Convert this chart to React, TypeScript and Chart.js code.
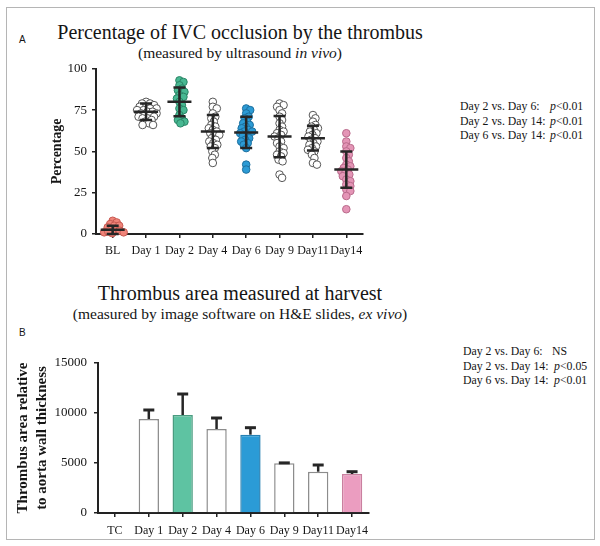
import React, { useEffect, useRef } from 'react';
import { Chart, registerables } from 'chart.js';

Chart.register(...registerables);

const FONT = "'Liberation Serif', 'Times New Roman', serif";
const INK = '#151515';

// ---------- Panel A data ----------
const categoriesA = ['BL', 'Day 1', 'Day 2', 'Day 4', 'Day 6', 'Day 9', 'Day11', 'Day14'];
const valuesBL = [8, 7, 6, 5, 5, 4, 3, 2, 2, 1, 0.5, 1, 1.5];
const valuesDay1 = [80, 79, 79, 78, 77, 77, 76, 76, 75, 75, 74, 74, 73, 73, 72, 72, 71, 71, 70, 70, 69, 68, 67, 66, 66];
const valuesDay2 = [93, 92, 90, 88, 87, 86, 84, 83, 82, 80, 78, 76, 75, 72, 70, 69, 68, 67];
const valuesDay4 = [80, 77, 76, 73, 71, 70, 68, 66, 65, 64, 63, 62, 61, 60, 60, 58, 57, 56, 55, 54, 53, 52, 50, 48, 46, 43];
const valuesDay6 = [76, 75, 73, 71, 70, 68, 67, 66, 65, 64, 63, 62, 62, 61, 60, 59, 58, 57, 56, 55, 54, 52, 42, 39];
const valuesDay9 = [79, 78, 77, 75, 73, 71, 69, 67, 65, 63, 62, 61, 60, 59, 58, 56, 55, 53, 52, 50, 49, 48, 47, 45, 44, 36, 34];
const valuesDay11 = [72, 70, 68, 66, 65, 64, 63, 62, 61, 60, 59, 58, 57, 56, 55, 54, 53, 52, 51, 50, 48, 46, 43, 42];
const valuesDay14 = [61, 56, 53, 52, 50, 48, 46, 44, 42, 41, 40, 39, 38, 37, 36, 35, 33, 32, 30, 29, 27, 26, 23, 15];
const meansA = [2.5, 74, 80, 62, 61.5, 59, 58, 39];
const sdA = [2.5, 5, 8.7, 10, 9.5, 12.5, 7.5, 11];
const pointFillA = ['#ef8479', '#ffffff', '#48b892', '#ffffff', '#2c9bd5', '#ffffff', '#ffffff', '#e495b6'];
const pointStrokeA = ['#c85a52', '#555555', '#2b8566', '#555555', '#1d6f9e', '#555555', '#555555', '#b96a8b'];
const yTicksA = [0, 25, 50, 75, 100];

// ---------- Panel B data ----------
const categoriesB = ['TC', 'Day 1', 'Day 2', 'Day 4', 'Day 6', 'Day 9', 'Day11', 'Day14'];
const barValuesB: (number | null)[] = [null, 9400, 9800, 8400, 7830, 4970, 4130, 3900];
const barErrorsB: (number | null)[] = [null, 900, 2100, 1100, 700, 40, 670, 230];
const barFillB = ['#ffffff', '#ffffff', '#5ec3a2', '#ffffff', '#2b9bd6', '#ffffff', '#ffffff', '#eb9dc0'];
const barStrokeB = ['#8c8c8c', '#8c8c8c', '#4a9c80', '#8c8c8c', '#2580b3', '#8c8c8c', '#8c8c8c', '#c9809f'];
const yTicksB = [0, 5000, 10000, 15000];

const statsA = [
  ['Day 2 vs. Day 6:', 'p', '<0.01'],
  ['Day 2 vs. Day 14:', 'p', '<0.01'],
  ['Day 6 vs. Day 14:', 'p', '<0.01'],
];
const statsB = [
  ['Day 2 vs. Day 6:', '', 'NS'],
  ['Day 2 vs. Day 14:', 'p', '<0.05'],
  ['Day 6 vs. Day 14:', 'p', '<0.01'],
];

// beeswarm layout (pixel space) -> x offsets in category units
function beeswarm(values: number[], xPxPerUnit: number, yPxPerUnit: number, minDist: number): number[] {
  const order = values.map((_, i) => i).sort((a, b) => values[b] - values[a]);
  const placed: { x: number; y: number }[] = [];
  const offs = new Array(values.length).fill(0);
  for (const i of order) {
    const y = values[i] * yPxPerUnit;
    let chosen = 0;
    for (let k = 0; k < 400; k++) {
      const cand = k === 0 ? 0 : (k % 2 ? 1 : -1) * Math.ceil(k / 2) * 0.5;
      if (placed.every((p) => Math.hypot(p.x - cand, p.y - y) >= minDist)) {
        chosen = cand;
        break;
      }
    }
    placed.push({ x: chosen, y });
    offs[i] = chosen / xPxPerUnit;
  }
  return offs;
}

const errorBarsA = {
  id: 'errorBarsA',
  afterDatasetsDraw(chart: any) {
    const { ctx, scales } = chart;
    const xs = scales.x;
    const ys = scales.y;
    ctx.save();
    ctx.strokeStyle = '#262626';
    ctx.lineCap = 'butt';
    meansA.forEach((m, i) => {
      const x = xs.getPixelForValue(i);
      const ym = ys.getPixelForValue(m);
      const yt = ys.getPixelForValue(m + sdA[i]);
      const yb = ys.getPixelForValue(Math.max(0, m - sdA[i]));
      ctx.lineWidth = 2.5;
      ctx.beginPath();
      ctx.moveTo(x - 12, ym);
      ctx.lineTo(x + 12, ym);
      ctx.moveTo(x, yt);
      ctx.lineTo(x, yb);
      ctx.moveTo(x - 6, yt);
      ctx.lineTo(x + 6, yt);
      ctx.moveTo(x - 6, yb);
      ctx.lineTo(x + 6, yb);
      ctx.stroke();
    });
    ctx.restore();
  },
};

const errorBarsB = {
  id: 'errorBarsB',
  afterDatasetsDraw(chart: any) {
    const { ctx, scales } = chart;
    const meta = chart.getDatasetMeta(0);
    ctx.save();
    ctx.strokeStyle = '#262626';
    barValuesB.forEach((v, i) => {
      const e = barErrorsB[i];
      if (v == null || e == null) return;
      const x = meta.data[i].x;
      const y0 = scales.y.getPixelForValue(v);
      const y1 = scales.y.getPixelForValue(v + e);
      ctx.lineWidth = 2.5;
      ctx.beginPath();
      ctx.moveTo(x, y0);
      ctx.lineTo(x, y1);
      ctx.stroke();
      ctx.lineWidth = 3;
      ctx.beginPath();
      ctx.moveTo(x - 5.5, y1);
      ctx.lineTo(x + 5.5, y1);
      ctx.stroke();
    });
    ctx.restore();
  },
};

function ChartA() {
  const ref = useRef<HTMLCanvasElement>(null);
  useEffect(() => {
    if (!ref.current) return;
    const groups = [valuesBL, valuesDay1, valuesDay2, valuesDay4, valuesDay6, valuesDay9, valuesDay11, valuesDay14];
    const datasets = groups.map((vals, g) => {
      const offs = beeswarm(vals, 33.4, 1.71, 4);
      return {
        data: vals.map((v, j) => ({ x: g + offs[j], y: v })),
        pointRadius: 3.8,
        pointBackgroundColor: pointFillA[g],
        pointBorderColor: pointStrokeA[g],
        pointBorderWidth: 1,
        showLine: false,
        clip: false as any,
      };
    });
    const chart = new Chart(ref.current, {
      type: 'scatter',
      data: { datasets },
      options: {
        animation: false,
        responsive: false,
        events: [],
        layout: { padding: { top: 7, right: 17, left: 0, bottom: 0 } },
        plugins: { legend: { display: false }, tooltip: { enabled: false } },
        scales: {
          x: {
            type: 'linear',
            min: -0.5,
            max: 7.5,
            afterBuildTicks: (s: any) => {
              s.ticks = categoriesA.map((_, i) => ({ value: i }));
            },
            afterFit: (s: any) => {
              s.height = 32;
            },
            ticks: {
              autoSkip: false,
              maxRotation: 0,
              minRotation: 0,
              padding: 6,
              color: INK,
              font: { family: FONT, size: 12 },
              callback: (v: any) => categoriesA[Math.round(Number(v))],
            },
            grid: { display: true, drawOnChartArea: false, drawTicks: true, tickLength: 4, color: '#222', lineWidth: 1.5 },
            border: { display: true, color: '#222', width: 2 },
          },
          y: {
            min: 0,
            max: 100,
            afterBuildTicks: (s: any) => {
              s.ticks = yTicksA.map((v) => ({ value: v }));
            },
            afterFit: (s: any) => {
              s.width = 96;
            },
            ticks: { padding: 5, color: INK, font: { family: FONT, size: 13 } },
            grid: { display: true, drawOnChartArea: false, drawTicks: true, tickLength: 4, color: '#222', lineWidth: 1.5 },
            border: { display: true, color: '#222', width: 2 },
            title: {
              display: true,
              text: 'Percentage',
              color: INK,
              font: { family: FONT, size: 14, weight: 'bold' },
              padding: { top: 49, bottom: 0 },
            },
          },
        },
      },
      plugins: [errorBarsA],
    } as any);
    return () => chart.destroy();
  }, []);
  return (
    <canvas
      ref={ref}
      width={380}
      height={210}
      style={{ position: 'absolute', left: 0, top: 56, width: 380, height: 210 }}
    />
  );
}

function ChartB() {
  const ref = useRef<HTMLCanvasElement>(null);
  useEffect(() => {
    if (!ref.current) return;
    const chart = new Chart(ref.current, {
      type: 'bar',
      data: {
        labels: categoriesB,
        datasets: [
          {
            data: barValuesB,
            backgroundColor: barFillB,
            borderColor: barStrokeB,
            borderWidth: 1.5,
            barPercentage: 0.6,
            categoryPercentage: 1,
          },
        ],
      },
      options: {
        animation: false,
        responsive: false,
        events: [],
        layout: { padding: { top: 23, right: 21, left: 0, bottom: 0 } },
        plugins: { legend: { display: false }, tooltip: { enabled: false } },
        scales: {
          x: {
            afterFit: (s: any) => {
              s.height = 30;
            },
            ticks: {
              autoSkip: false,
              maxRotation: 0,
              minRotation: 0,
              padding: 7,
              color: INK,
              font: { family: FONT, size: 12 },
            },
            grid: { display: true, offset: false, drawOnChartArea: false, drawTicks: true, tickLength: 4, color: '#222', lineWidth: 1.5 },
            border: { display: true, color: '#222', width: 2 },
          },
          y: {
            min: 0,
            max: 15000,
            afterBuildTicks: (s: any) => {
              s.ticks = yTicksB.map((v) => ({ value: v }));
            },
            afterFit: (s: any) => {
              s.width = 98;
            },
            ticks: {
              padding: 7,
              color: INK,
              font: { family: FONT, size: 13 },
              callback: (v: any) => String(v),
            },
            grid: { display: true, drawOnChartArea: false, drawTicks: true, tickLength: 4, color: '#222', lineWidth: 1.5 },
            border: { display: true, color: '#222', width: 2 },
            title: {
              display: true,
              text: ['Thrombus area relative', 'to aorta wall thickness'],
              color: INK,
              font: { family: FONT, size: 15, weight: 'bold', lineHeight: 1.25 },
              padding: { top: 14, bottom: 0 },
            },
          },
        },
      },
      plugins: [errorBarsB],
    } as any);
    return () => chart.destroy();
  }, []);
  return (
    <canvas
      ref={ref}
      width={390}
      height={203}
      style={{ position: 'absolute', left: 0, top: 340, width: 390, height: 203 }}
    />
  );
}

function Stats({ rows, top, left, pLeft }: { rows: string[][]; top: number; left: number; pLeft: number[] }) {
  return (
    <>
      {rows.map((r, i) => (
        <div
          key={i}
          style={{
            position: 'absolute',
            left,
            top: top + i * 14.5,
            height: 15,
            lineHeight: '15px',
            fontSize: 11.8,
            fontFamily: FONT,
            color: INK,
            whiteSpace: 'nowrap',
          }}
        >
          {r[0]}
          <span style={{ position: 'absolute', left: pLeft[i] - left, top: 0 }}>
            {r[1] ? <i>{r[1]}</i> : null}
            {r[2]}
          </span>
        </div>
      ))}
    </>
  );
}

export default function App() {
  const centerText = (top: number, size: number, h: number): React.CSSProperties => ({
    position: 'absolute',
    left: 0,
    width: 480,
    top,
    height: h,
    lineHeight: h + 'px',
    fontSize: size,
    textAlign: 'center',
    fontFamily: FONT,
    color: INK,
    whiteSpace: 'nowrap',
  });
  return (
    <div
      style={{
        position: 'fixed',
        left: 0,
        top: 0,
        width: 600,
        height: 546,
        background: '#fff',
        overflow: 'hidden',
      }}
    >
      <div
        style={{
          position: 'absolute',
          left: 6,
          top: 7,
          width: 587,
          height: 531,
          border: '1.5px solid #b5b5b5',
        }}
      />
      <div style={{ position: 'absolute', left: 19, top: 34, fontSize: 10, fontFamily: "'Liberation Sans', Arial, sans-serif", color: INK }}>A</div>
      <div style={{ position: 'absolute', left: 19, top: 327, fontSize: 10, fontFamily: "'Liberation Sans', Arial, sans-serif", color: INK }}>B</div>
      <div style={centerText(20, 20, 24)}>Percentage of IVC occlusion by the thrombus</div>
      <div style={centerText(43, 15.5, 19)}>
        (measured by ultrasound <i>in vivo</i>)
      </div>
      <div style={centerText(281, 20, 24)}>Thrombus area measured at harvest</div>
      <div style={centerText(304, 15.5, 19)}>
        (measured by image software on H&amp;E slides, <i>ex vivo</i>)
      </div>
      <ChartA />
      <ChartB />
      <Stats rows={statsA} top={99} left={460} pLeft={[550, 550, 550]} />
      <Stats rows={statsB} top={344} left={463} pLeft={[552, 554, 554]} />
    </div>
  );
}
